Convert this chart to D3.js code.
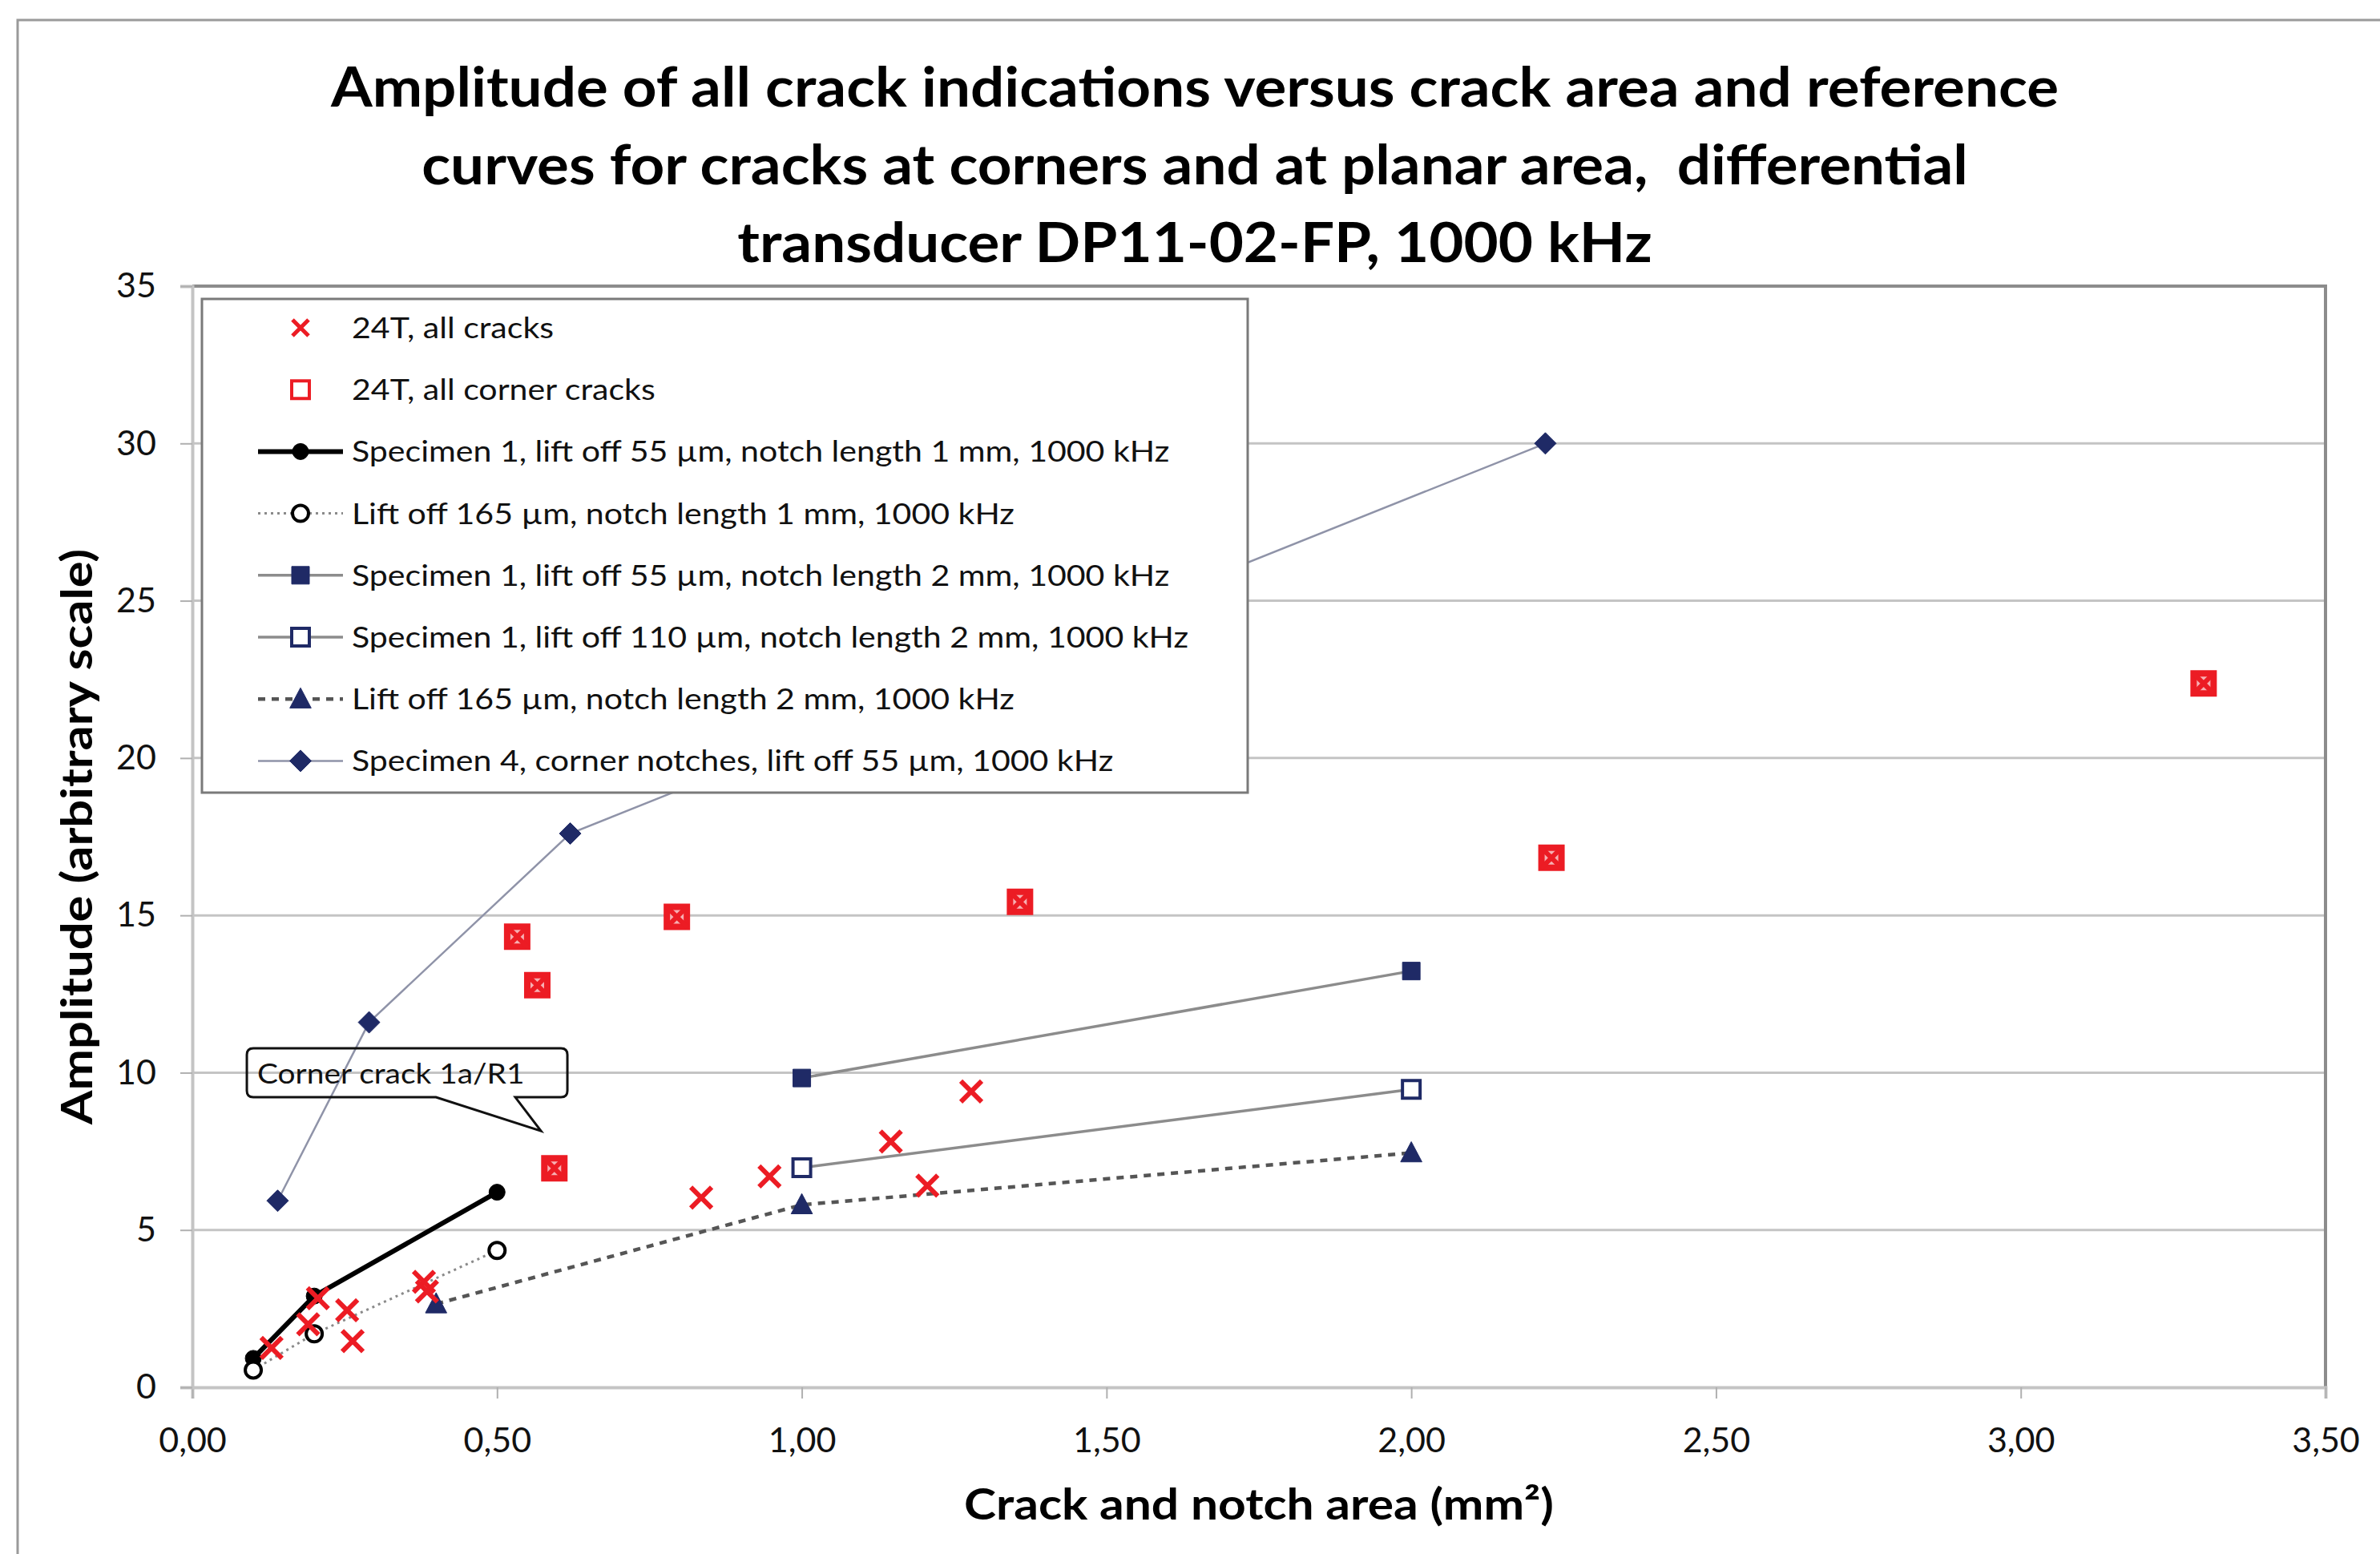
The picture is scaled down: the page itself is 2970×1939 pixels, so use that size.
<!DOCTYPE html>
<html>
<head>
<meta charset="utf-8">
<script src="https://cdn.jsdelivr.net/npm/d3@7"></script>
<style>
  body { margin: 0; background: #fff; }
  text { font-family: Lato, "Open Sans", sans-serif; white-space: pre; }
</style>
</head>
<body>
<div id="chart"></div>
<script>
// Amplitude vs crack area, eddy current reference curves

var titleLines = [
    "Amplitude of all crack indications versus crack area and reference",
    "curves for cracks at corners and at planar area,  differential",
    "transducer DP11-02-FP, 1000 kHz"
];
var xTicks = [0, 0.5, 1, 1.5, 2, 2.5, 3, 3.5];
var yTicks = [0, 5, 10, 15, 20, 25, 30, 35];

// 24T, all cracks
var allCracksX = [0.13, 0.19, 0.206, 0.254, 0.263, 0.38, 0.385, 0.533, 0.566, 0.594, 0.795, 0.835, 0.947, 1.146, 1.206, 1.278, 1.358, 2.23, 3.30];
var allCracksY = [1.25, 2.0, 2.83, 2.45, 1.47, 3.35, 3.05, 14.32, 12.78, 6.96, 14.95, 6.03, 6.7, 7.81, 6.41, 9.40, 15.43, 16.83, 22.37];
// 24T, all corner cracks
var cornerX = [0.533, 0.566, 0.594, 0.795, 1.358, 2.23, 3.30];
var cornerY = [14.32, 12.78, 6.96, 14.95, 15.43, 16.83, 22.37];

// reference curves
var s1n1X = [0.1, 0.2, 0.5];
var s1n1Y = [0.92, 2.9, 6.2];
var lo165n1X = [0.1, 0.2, 0.5];
var lo165n1Y = [0.55, 1.7, 4.35];
var s1n2X = [1, 2];
var s1n2Y = [9.83, 13.23];
var s1lo110X = [1, 2];
var s1lo110Y = [6.98, 9.47];
var lo165n2X = [0.4, 1, 2];
var lo165n2Y = [2.65, 5.8, 7.45];
var s4X = [0.14, 0.29, 0.62, 2.22];
var s4Y = [5.93, 11.6, 17.6, 30.0];

var legendLabels = [
    "24T, all cracks",
    "24T, all corner cracks",
    "Specimen 1, lift off 55 \u00b5m, notch length 1 mm, 1000 kHz",
    "Lift off 165 \u00b5m, notch length 1 mm, 1000 kHz",
    "Specimen 1, lift off 55 \u00b5m, notch length 2 mm, 1000 kHz",
    "Specimen 1, lift off 110 \u00b5m, notch length 2 mm, 1000 kHz",
    "Lift off 165 \u00b5m, notch length 2 mm, 1000 kHz",
    "Specimen 4, corner notches, lift off 55 \u00b5m, 1000 kHz"
];

var calloutText = "Corner crack 1a/R1";
var calloutTip = [0.572, 8.15];

var width = 2970;
var height = 1939;
var red = "#ec1c24";
var navy = "#1f2a66";

function zip(xs, ys) {
    return xs.map(function(x, i) { return {x: x, y: ys[i]} });
}

// the original font (Calibri) is wider than Lato, so widen the glyphs a bit
function stretch(sel, f) {
    sel.each(function() {
        var len = this.getComputedTextLength();
        d3.select(this)
            .attr("textLength", len * f)
            .attr("lengthAdjust", "spacingAndGlyphs");
    });
}

var series = [
    {name: "s1n1", data: zip(s1n1X, s1n1Y), stroke: "#000", sw: 6, dash: null, marker: "circle", fill: "#000", mstroke: "#000"},
    {name: "lo165n1", data: zip(lo165n1X, lo165n1Y), stroke: "#8a8a8a", sw: 3, dash: "3,5", marker: "circle", fill: "#fff", mstroke: "#000"},
    {name: "s1n2", data: zip(s1n2X, s1n2Y), stroke: "#8c8c8c", sw: 3.5, dash: null, marker: "square", fill: navy, mstroke: navy},
    {name: "s1lo110", data: zip(s1lo110X, s1lo110Y), stroke: "#8c8c8c", sw: 3.5, dash: null, marker: "square", fill: "#fff", mstroke: navy},
    {name: "lo165n2", data: zip(lo165n2X, lo165n2Y), stroke: "#555", sw: 4.5, dash: "9,8", marker: "triangle", fill: navy, mstroke: navy},
    {name: "s4", data: zip(s4X, s4Y), stroke: "#8f93a8", sw: 2.5, dash: null, marker: "diamond", fill: navy, mstroke: navy}
];

var svg = d3.select("#chart")
    .append("svg")
        .attr("width", width)
        .attr("height", height);

svg.append("rect")
    .attr("x", 0).attr("y", 0)
    .attr("width", width).attr("height", height)
    .attr("fill", "#fff");

// outer chart border (only top and left show in the crop)
svg.append("rect")
    .attr("x", 22).attr("y", 25)
    .attr("width", width + 20).attr("height", height + 20)
    .attr("fill", "none")
    .attr("stroke", "#9a9a9a")
    .attr("stroke-width", 3);

var x = d3.scaleLinear().domain([0, 3.5]).range([240, 2902]);
var y = d3.scaleLinear().domain([0, 35]).range([1731, 357]);

var commaFmt = d3.formatLocale({decimal: ",", thousands: ".", grouping: [3], currency: ["", ""]}).format(".2f");

// title
svg.append("g")
    .selectAll("text")
    .data(titleLines)
    .enter()
    .append("text")
        .attr("x", 1491)
        .attr("y", function(d, i) { return 133 + i * 97 })
        .attr("text-anchor", "middle")
        .attr("font-size", 69)
        .attr("font-weight", "bold")
        .attr("fill", "#000")
        .text(function(d) { return d })
        .call(stretch, 1.08);

// gridlines
svg.append("g")
    .selectAll("line")
    .data(yTicks.filter(function(d) { return d > 0 && d < 35 }))
    .enter()
    .append("line")
        .attr("x1", x(0)).attr("x2", x(3.5))
        .attr("y1", function(d) { return y(d) })
        .attr("y2", function(d) { return y(d) })
        .attr("stroke", "#c4c4c4")
        .attr("stroke-width", 3);

// plot frame top and right
svg.append("path")
    .attr("d", "M" + x(0) + "," + y(35) + "H" + x(3.5) + "V" + y(0))
    .attr("fill", "none")
    .attr("stroke", "#8c8c8c")
    .attr("stroke-width", 4);

var xAxis = svg.append("g")
    .attr("transform", "translate(0," + y(0) + ")")
    .call(d3.axisBottom(x).tickValues(xTicks).tickFormat(commaFmt).tickSize(14).tickPadding(36));
var yAxis = svg.append("g")
    .attr("transform", "translate(" + x(0) + ",0)")
    .call(d3.axisLeft(y).tickValues(yTicks).tickSize(15).tickPadding(30));

[xAxis, yAxis].forEach(function(a) {
    a.select(".domain").attr("stroke", "#c4c4c4").attr("stroke-width", 4);
    a.selectAll(".tick line").attr("stroke", "#b0b0b0").attr("stroke-width", 2);
    a.selectAll(".tick text")
        .attr("font-size", 43)
        .attr("font-family", "Lato, sans-serif")
        .attr("fill", "#111");
});

// axis titles
svg.append("text")
    .attr("x", (x(0) + x(3.5)) / 2)
    .attr("y", 1896)
    .attr("text-anchor", "middle")
    .attr("font-size", 54)
    .attr("font-weight", "bold")
    .text("Crack and notch area (mm\u00b2)")
    .call(stretch, 1.12);

svg.append("text")
    .attr("transform", "translate(115," + (y(0) + y(35)) / 2 + ") rotate(-90)")
    .attr("text-anchor", "middle")
    .attr("font-size", 54)
    .attr("font-weight", "bold")
    .text("Amplitude (arbitrary scale)")
    .call(stretch, 1.14);

// marker shapes, centred on 0,0
function markerPath(kind, s) {
    var h = s / 2;
    if (kind == "square") return "M" + (-h) + "," + (-h) + "h" + s + "v" + s + "h" + (-s) + "Z";
    if (kind == "diamond") return "M0," + (-h) + "L" + h + ",0L0," + h + "L" + (-h) + ",0Z";
    if (kind == "triangle") return "M0," + (-h) + "L" + (h * 0.95) + "," + (h * 0.8) + "L" + (-h * 0.95) + "," + (h * 0.8) + "Z";
    if (kind == "x") return "M" + (-h) + "," + (-h) + "L" + h + "," + h + "M" + h + "," + (-h) + "L" + (-h) + "," + h;
    return d3.symbol().type(d3.symbolCircle).size(Math.PI * h * h)();
}
var markerSize = {circle: 20, square: 22, triangle: 28, diamond: 27};

function drawMarker(g, s, px, py) {
    g.append("path")
        .attr("transform", "translate(" + px + "," + py + ")")
        .attr("d", markerPath(s.marker, markerSize[s.marker]))
        .attr("fill", s.fill)
        .attr("stroke", s.mstroke)
        .attr("stroke-width", s.fill == "#fff" ? 4 : 1);
}

var line = d3.line()
    .x(function(d) { return x(d.x) })
    .y(function(d) { return y(d.y) });

var lines = svg.append("g").attr("class", "lines");
series.forEach(function(s) {
    lines.append("path")
        .datum(s.data)
        .attr("fill", "none")
        .attr("stroke", s.stroke)
        .attr("stroke-width", s.sw)
        .attr("stroke-dasharray", s.dash)
        .attr("d", line);
});
var marks = svg.append("g").attr("class", "marks");
series.forEach(function(s) {
    s.data.forEach(function(d) { drawMarker(marks, s, x(d.x), y(d.y)) });
});

// 24T corner cracks (open red squares) then all cracks (red x)
svg.append("g")
    .selectAll("path")
    .data(zip(cornerX, cornerY))
    .enter()
    .append("path")
        .attr("transform", function(d) { return "translate(" + x(d.x) + "," + y(d.y) + ")" })
        .attr("d", markerPath("square", 25))
        .attr("fill", "#f7b0b3")
        .attr("stroke", red)
        .attr("stroke-width", 8);

svg.append("g")
    .selectAll("path")
    .data(zip(allCracksX, allCracksY))
    .enter()
    .append("path")
        .attr("transform", function(d) { return "translate(" + x(d.x) + "," + y(d.y) + ")" })
        .attr("d", markerPath("x", 26))
        .attr("fill", "none")
        .attr("stroke", red)
        .attr("stroke-width", 6);

// legend
var lg = svg.append("g").attr("class", "legend");
lg.append("rect")
    .attr("x", 252).attr("y", 373)
    .attr("width", 1305).attr("height", 616)
    .attr("fill", "#fff")
    .attr("stroke", "#7a7a7a")
    .attr("stroke-width", 3);

legendLabels.forEach(function(label, i) {
    var ry = 409 + i * 77.2;
    var mx = 375;
    if (i == 0) {
        lg.append("path")
            .attr("transform", "translate(" + mx + "," + ry + ")")
            .attr("d", markerPath("x", 20))
            .attr("stroke", red).attr("stroke-width", 5).attr("fill", "none");
    } else if (i == 1) {
        lg.append("path")
            .attr("transform", "translate(" + mx + "," + ry + ")")
            .attr("d", markerPath("square", 22))
            .attr("stroke", red).attr("stroke-width", 4).attr("fill", "none");
    } else {
        var s = series[i - 2];
        lg.append("line")
            .attr("x1", 322).attr("x2", 428)
            .attr("y1", ry).attr("y2", ry)
            .attr("stroke", s.stroke)
            .attr("stroke-width", s.sw)
            .attr("stroke-dasharray", s.dash);
        drawMarker(lg, s, mx, ry);
    }
    lg.append("text")
        .attr("x", 439)
        .attr("y", ry + 13)
        .attr("font-size", 37)
        .attr("fill", "#111")
        .text(label)
        .call(stretch, 1.11);
});

// callout for corner crack 1a/R1
var tx = x(calloutTip[0]);
var ty = y(calloutTip[1]);
var bx0 = tx - 367, bx1 = tx + 33, by0 = ty - 103, by1 = ty - 42, r = 8;
svg.append("path")
    .attr("d", "M" + (bx0 + r) + "," + by0 +
        "H" + (bx1 - r) + "Q" + bx1 + "," + by0 + " " + bx1 + "," + (by0 + r) +
        "V" + (by1 - r) + "Q" + bx1 + "," + by1 + " " + (bx1 - r) + "," + by1 +
        "H" + (tx - 32) + "L" + tx + "," + ty + "L" + (tx - 131) + "," + by1 +
        "H" + (bx0 + r) + "Q" + bx0 + "," + by1 + " " + bx0 + "," + (by1 - r) +
        "V" + (by0 + r) + "Q" + bx0 + "," + by0 + " " + (bx0 + r) + "," + by0 + "Z")
    .attr("fill", "none")
    .attr("stroke", "#111")
    .attr("stroke-width", 3);
svg.append("text")
    .attr("x", bx0 + 13)
    .attr("y", by1 - 17)
    .attr("font-size", 35)
    .attr("fill", "#111")
    .text(calloutText)
    .call(stretch, 1.11);
</script>
</body>
</html>
